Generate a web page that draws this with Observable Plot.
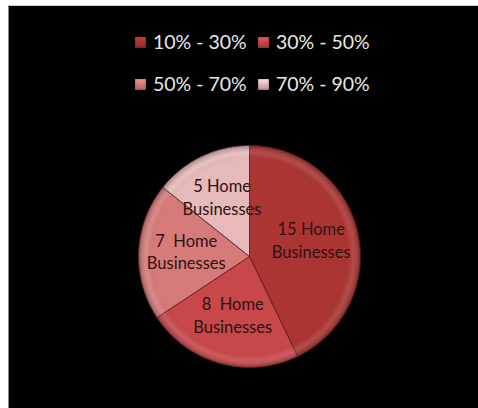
<!DOCTYPE html>
<html><head><meta charset="utf-8">
<script src="https://cdn.jsdelivr.net/npm/d3@7"></script>
<script src="https://cdn.jsdelivr.net/npm/@observablehq/plot@0.6"></script>
<style>
html,body{margin:0;padding:0;background:#fff;width:478px;height:408px;overflow:hidden;font-family:Lato,"Open Sans",sans-serif}
#frame{position:absolute;left:8px;top:5px;width:470px;height:403px;background:#000;border-left:1px solid #8a8a8a;border-top:1px solid #d0d0d0;box-sizing:border-box}
.sw{position:absolute;width:11px;height:11px;box-shadow:inset 0 0 2px rgba(0,0,0,0.5)}
.lt{position:absolute;color:#e8e8e8;font-size:19.5px;line-height:20px;white-space:nowrap}
#chart{position:absolute;left:0;top:100px}
</style></head><body>
<div id="frame"><div id="legend"></div><div id="chart"></div></div>
<script>
const categories = ["10% - 30%", "30% - 50%", "50% - 70%", "70% - 90%"];
const counts = [15, 8, 7, 5];
const labels = ["15 Home\nBusinesses", "8  Home\nBusinesses", "7  Home\nBusinesses", "5 Home\nBusinesses"];
const colors = ["#ab3532", "#c8474a", "#d67b79", "#e6baba"];

// legend (HTML, above the SVG)
const legend = document.getElementById("legend");
const legendPos = [[126, 144, 26], [249, 267, 26], [126, 144, 68], [249, 267, 68]];
categories.forEach((c, i) => {
  const [sx, tx, ty] = legendPos[i];
  const sw = document.createElement("div");
  sw.className = "sw";
  sw.style.left = sx + "px"; sw.style.top = (ty + 5) + "px";
  sw.style.background = `linear-gradient(180deg, ${d3.color(colors[i]).brighter(0.6)} 0%, ${colors[i]} 45%, ${d3.color(colors[i]).darker(0.6)} 100%)`;
  legend.appendChild(sw);
  const t = document.createElement("div");
  t.className = "lt";
  t.style.left = tx + "px"; t.style.top = ty + "px";
  t.textContent = c;
  legend.appendChild(t);
});

// pie geometry from the data
const arcs = d3.pie().sort(null).value(d => d)(counts);
const pts = [];
arcs.forEach((a, i) => {
  const n = Math.max(2, Math.ceil((a.endAngle - a.startAngle) / 0.01));
  pts.push({k: categories[i], x: 0, y: 0});
  for (let j = 0; j <= n; j++) {
    const t = a.startAngle + (a.endAngle - a.startAngle) * j / n;
    pts.push({k: categories[i], x: Math.sin(t), y: Math.cos(t)});
  }
  pts.push({k: categories[i], x: 0, y: 0});
});
const labelData = arcs.map((a, i) => {
  const m = (a.startAngle + a.endAngle) / 2;
  return {x: 0.57 * Math.sin(m), y: 0.57 * Math.cos(m), text: labels[i]};
});

const R = 111;
const defs = () => {
  const ns = "http://www.w3.org/2000/svg";
  const d = document.createElementNS(ns, "defs");
  d.innerHTML = `<radialGradient id="bevel" cx="50%" cy="50%" r="50%">
    <stop offset="0%" stop-color="#000" stop-opacity="0"/>
    <stop offset="86%" stop-color="#000" stop-opacity="0"/>
    <stop offset="93%" stop-color="#fff" stop-opacity="0.10"/>
    <stop offset="100%" stop-color="#000" stop-opacity="0.30"/>
  </radialGradient>`;
  return d;
};
const chart = Plot.plot({
  width: 469, height: 302,
  marginLeft: 129, marginRight: 118, marginTop: 39, marginBottom: 41,
  x: {domain: [-1, 1], axis: null},
  y: {domain: [-1, 1], axis: null},
  color: {domain: categories, range: colors},
  style: {background: "transparent", overflow: "visible"},
  marks: [
    defs,
    Plot.line(pts, {x: "x", y: "y", z: "k", fill: "k", stroke: "#5a1c1c", strokeWidth: 0.8, strokeLinejoin: "round", curve: "linear"}),
    Plot.dot([{x: 0, y: 0}], {x: "x", y: "y", r: R, fill: "url(#bevel)", stroke: "none"}),
    Plot.text(labelData, {x: "x", y: "y", dy: -3, text: "text", fill: "#2e1212", fontSize: 16.5, lineHeight: 1.38, fontFamily: "Lato, 'Open Sans', sans-serif"})
  ]
});
document.getElementById("chart").appendChild(chart);
</script>
</body></html>
